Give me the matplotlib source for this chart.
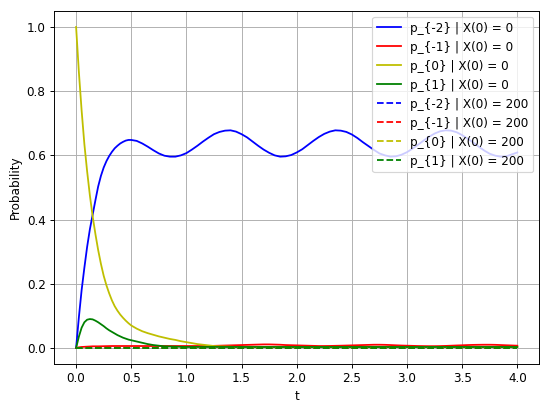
import matplotlib
matplotlib.use("Agg")
import matplotlib.pyplot as plt
import numpy as np

# time grid: 0.025 steps up to 0.5, then 0.05 steps to 4.0
t = list(np.round(np.arange(0.0, 0.5001, 0.025), 3)) + list(np.round(np.arange(0.55, 4.0001, 0.05), 3))

p_m2_x0 = [0.0, 0.095, 0.18, 0.25, 0.315, 0.37, 0.415, 0.46, 0.503, 0.536, 0.562, 0.582, 0.598,
           0.611, 0.622, 0.630, 0.637, 0.642, 0.646, 0.648, 0.648,
           0.645, 0.637, 0.627, 0.616, 0.606, 0.599, 0.596, 0.596, 0.600, 0.607,
           0.618, 0.630, 0.643, 0.655, 0.666, 0.673, 0.677, 0.678, 0.674, 0.666,
           0.656, 0.643, 0.630, 0.618, 0.608, 0.600, 0.596, 0.597, 0.601, 0.609,
           0.619, 0.632, 0.645, 0.657, 0.667, 0.674, 0.678, 0.677, 0.673, 0.665,
           0.654, 0.641, 0.629, 0.617, 0.606, 0.600, 0.596, 0.597, 0.602, 0.610,
           0.621, 0.633, 0.646, 0.658, 0.668, 0.675, 0.678, 0.677, 0.672, 0.663,
           0.652, 0.640, 0.627, 0.615, 0.605, 0.599, 0.596, 0.597, 0.603, 0.609]

p_m1_x0 = [0.0, 0.002, 0.003, 0.0035, 0.004, 0.0045, 0.005, 0.005, 0.005, 0.0052, 0.0054, 0.0056, 0.0058,
           0.006, 0.006, 0.006, 0.006, 0.006, 0.006, 0.006, 0.006,
           0.006, 0.006, 0.006, 0.006, 0.006, 0.006, 0.006, 0.006, 0.006, 0.006,
           0.006, 0.006, 0.006, 0.006, 0.0065, 0.007, 0.0075, 0.008, 0.0085, 0.009,
           0.0095, 0.010, 0.0105, 0.011, 0.011, 0.0105, 0.010, 0.009, 0.0085, 0.008,
           0.0075, 0.007, 0.0065, 0.006, 0.006, 0.0062, 0.0066, 0.007, 0.0075, 0.008,
           0.0085, 0.009, 0.0095, 0.010, 0.010, 0.0097, 0.009, 0.0082, 0.0075, 0.007,
           0.0065, 0.006, 0.0057, 0.0055, 0.0055, 0.0058, 0.0063, 0.007, 0.0077, 0.0083,
           0.009, 0.0095, 0.0098, 0.010, 0.010, 0.0097, 0.009, 0.0083, 0.0077, 0.007]

p_0_x0 = [1.0, 0.86, 0.74, 0.635, 0.55, 0.475, 0.41, 0.355, 0.305, 0.262, 0.225, 0.195, 0.17,
          0.148, 0.13, 0.116, 0.104, 0.094, 0.085, 0.077, 0.07,
          0.06, 0.052, 0.046, 0.041, 0.036, 0.032, 0.028, 0.025, 0.021, 0.018,
          0.015, 0.012, 0.010, 0.008, 0.006, 0.005, 0.0045, 0.004] + [0.003] * 52

p_1_x0 = [0.0, 0.035, 0.063, 0.08, 0.088, 0.09, 0.089, 0.085, 0.08, 0.074, 0.068, 0.061, 0.055,
          0.05, 0.045, 0.04, 0.036, 0.032, 0.029, 0.026, 0.024,
          0.02, 0.016, 0.012, 0.009, 0.007, 0.005, 0.0045, 0.004, 0.0035, 0.003] + [0.003] * 60

p_m2_x200 = [0.0] * len(t)
p_m1_x200 = [0.0] * len(t)
p_0_x200 = [0.0] * len(t)
p_1_x200 = [0.0] * len(t)

labels = ["p_{-2}", "p_{-1}", "p_{0}", "p_{1}"]
colors = ["b", "r", "y", "g"]

fig = plt.figure(figsize=(6.4, 4.78), dpi=86)
ax = fig.add_axes([54 / 550, 47 / 411, 485 / 550, 353 / 411])

for lab, c, s in zip(labels, colors, [p_m2_x0, p_m1_x0, p_0_x0, p_1_x0]):
    ax.plot(t, s, color=c, linestyle="-", label=f"{lab} | X(0) = 0")
for lab, c, s in zip(labels, colors, [p_m2_x200, p_m1_x200, p_0_x200, p_1_x200]):
    ax.plot(t, s, color=c, linestyle="--", label=f"{lab} | X(0) = 200")

ax.set_xlabel("t")
ax.set_ylabel("Probability")
ax.grid(True)
ax.legend(loc="upper right")
fig.savefig("out.png", dpi=86)
